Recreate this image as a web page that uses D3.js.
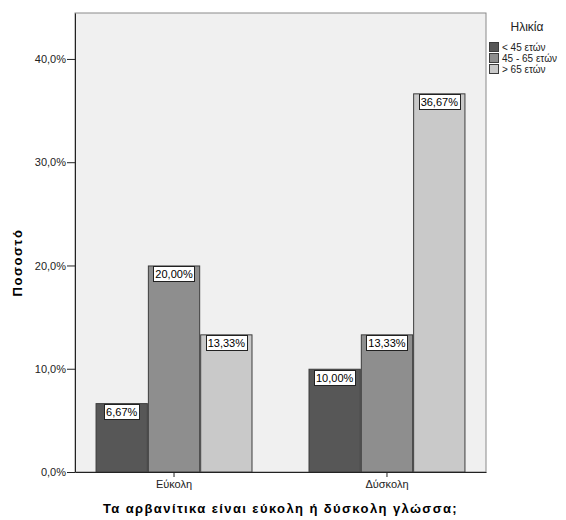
<!DOCTYPE html>
<html>
<head>
<meta charset="utf-8">
<script src="https://cdn.jsdelivr.net/npm/d3@7"></script>
<style>
  html, body { margin: 0; padding: 0; background: #fff; }
  svg { display: block; font-family: Arial, "Liberation Sans", sans-serif; }
</style>
</head>
<body>
<svg id="chart" width="566" height="520"></svg>
<script>
// Categories on the x axis
const categories = ["Εύκολη", "Δύσκολη"];
// Age groups (legend series)
const seriesNames = ["< 45 ετών", "45 - 65 ετών", "> 65 ετών"];
// Percentages per series, one value per category
const youngValues = [6.67, 10.00];
const middleValues = [20.00, 13.33];
const oldValues = [13.33, 36.67];
const seriesValues = [youngValues, middleValues, oldValues];
// Y axis ticks
const yTicks = [0, 10, 20, 30, 40];
const seriesColors = ["#575757", "#8e8e8e", "#c9c9c9"];

const svg = d3.select("#chart");
const plot = { left: 75, top: 13, right: 486, bottom: 472 };

const fmt = v => v.toFixed(2).replace(".", ",") + "%";
const tickFmt = v => v.toFixed(1).replace(".", ",") + "%";

const x = d3.scaleBand().domain(categories).range([plot.left, plot.right]).paddingInner(0.263).paddingOuter(0.0965);
const xs = d3.scaleBand().domain(d3.range(seriesNames.length)).range([0, x.bandwidth()]);
const y = d3.scaleLinear().domain([0, 44.45]).range([plot.bottom, plot.top]);

// Plot background
svg.append("rect")
  .attr("x", plot.left).attr("y", plot.top)
  .attr("width", plot.right - plot.left).attr("height", plot.bottom - plot.top)
  .attr("fill", "#f0f0f0")
  .attr("stroke", "#8a8a8a").attr("stroke-width", 1);

// Bars
const rows = [];
categories.forEach((c, ci) => {
  seriesValues.forEach((vals, si) => rows.push({ c, si, v: vals[ci] }));
});

const bars = svg.append("g");
bars.selectAll("rect").data(rows).join("rect")
  .attr("x", d => x(d.c) + xs(d.si) + 0.5)
  .attr("y", d => y(d.v) + 0.5)
  .attr("width", xs.bandwidth() - 1)
  .attr("height", d => y(0) - y(d.v) - 0.5)
  .attr("fill", d => seriesColors[d.si])
  .attr("stroke", "#3c3c3c").attr("stroke-width", 1);

// Value labels in white boxes
const lbl = svg.append("g").style("font-size", "11px");
rows.forEach(d => {
  const cx = x(d.c) + xs(d.si) + xs.bandwidth() / 2;
  const t = lbl.append("text")
    .attr("x", cx).attr("y", y(d.v) + 13)
    .attr("text-anchor", "middle").attr("fill", "#000")
    .text(fmt(d.v));
  const w = t.node().getComputedTextLength() + 4;
  lbl.insert("rect", "text")
    .attr("x", Math.round(cx - w / 2) + 0.5).attr("y", Math.round(y(d.v)) + 1.5)
    .attr("width", Math.round(w)).attr("height", 15)
    .attr("fill", "#fff").attr("stroke", "#222").attr("stroke-width", 1);
});

// Axes
const yAxis = svg.append("g")
  .attr("transform", `translate(${plot.left},0)`)
  .call(d3.axisLeft(y).tickValues(yTicks).tickFormat(tickFmt).tickSize(8).tickSizeOuter(0));
yAxis.select(".domain").attr("stroke", "#222");
yAxis.selectAll(".tick line").attr("stroke", "#222");
yAxis.selectAll(".tick text").attr("x", -9).style("font-size", "11px").style("font-family", "Arial, 'Liberation Sans', sans-serif").attr("fill", "#222");

const xAxis = svg.append("g")
  .attr("transform", `translate(0,${plot.bottom})`)
  .call(d3.axisBottom(x).tickSize(5).tickSizeOuter(0));
xAxis.select(".domain").attr("stroke", "#222");
xAxis.selectAll(".tick line").attr("stroke", "#222");
xAxis.selectAll(".tick text").attr("y", 8).style("font-size", "11px").style("font-family", "Arial, 'Liberation Sans', sans-serif").attr("fill", "#222");

// Axis titles
svg.append("text")
  .attr("x", (plot.left + plot.right) / 2).attr("y", 513)
  .attr("text-anchor", "middle")
  .style("font-size", "13px").style("font-weight", "bold").style("letter-spacing", "1.4px")
  .text("Τα αρβανίτικα είναι εύκολη ή δύσκολη γλώσσα;");

svg.append("text")
  .attr("transform", `translate(22,${(plot.top + plot.bottom) / 2 + 20}) rotate(-90)`)
  .attr("text-anchor", "middle")
  .style("font-size", "13px").style("font-weight", "bold").style("letter-spacing", "1.6px")
  .text("Ποσοστό");

// Legend
const legend = svg.append("g");
legend.append("text")
  .attr("x", 527).attr("y", 31)
  .attr("text-anchor", "middle")
  .style("font-size", "12px").attr("fill", "#222")
  .text("Ηλικία");
seriesNames.forEach((name, i) => {
  const yy = 42 + i * 11;
  legend.append("rect")
    .attr("x", 489.5).attr("y", yy + 0.5)
    .attr("width", 9).attr("height", 9)
    .attr("fill", seriesColors[i]).attr("stroke", "#3c3c3c");
  legend.append("text")
    .attr("x", 502).attr("y", yy + 9)
    .style("font-size", "10px").attr("fill", "#222")
    .text(name);
});
</script>
</body>
</html>
